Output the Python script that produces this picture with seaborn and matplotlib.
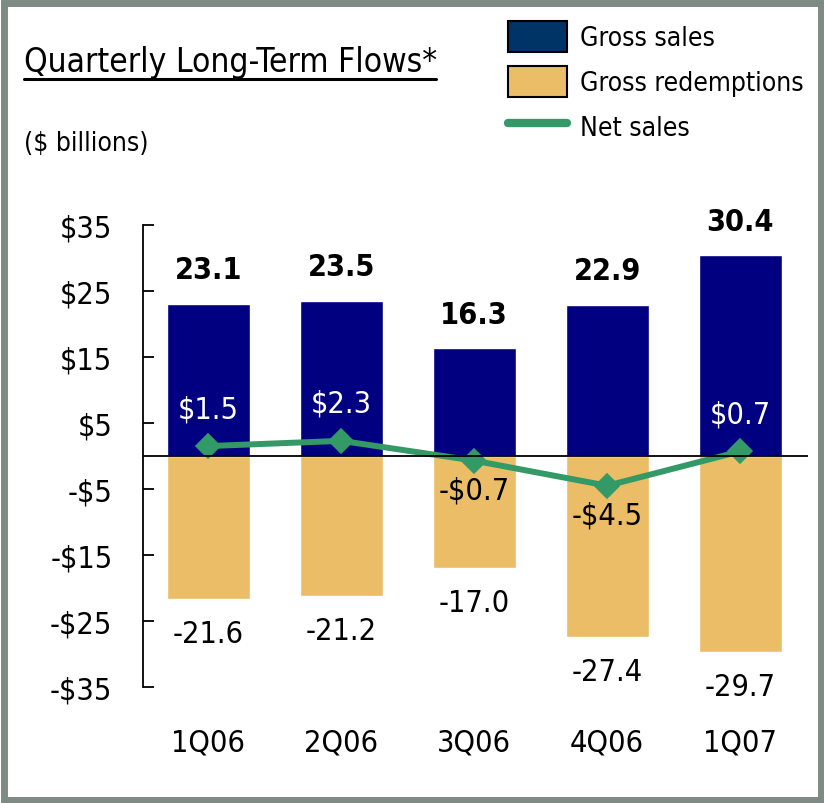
import pandas as pd
import numpy as np
import seaborn as sns
import matplotlib.pyplot as plt
from matplotlib.patches import Patch, Rectangle
from matplotlib.lines import Line2D

# === Dati ===
quarters = ["1Q06", "2Q06", "3Q06", "4Q06", "1Q07"]
gross_sales = [23.1, 23.5, 16.3, 22.9, 30.4]
gross_redemptions = [-21.6, -21.2, -17.0, -27.4, -29.7]
net_sales = [1.5, 2.3, -0.7, -4.5, 0.7]
y_ticks = [35, 25, 15, 5, -5, -15, -25, -35]

df = pd.DataFrame({"quarter": quarters, "gross": gross_sales,
                   "redemptions": gross_redemptions, "net": net_sales})

navy = "#000080"
swatch_navy = "#003366"
gold = "#EBBD66"
green = "#339966"

sns.set_style("white")
plt.rcParams["font.family"] = ["DejaVu Sans"]
plt.rcParams["font.stretch"] = "condensed"
plt.rcParams["text.color"] = "black"
plt.rcParams["xtick.color"] = "black"
plt.rcParams["ytick.color"] = "black"

W, H = 824, 804
fig = plt.figure(figsize=(W / 100, H / 100), dpi=100)
ax = fig.add_axes([143 / W, 1 - 688 / H, (808 - 143) / W, (688 - 226) / H])

sns.barplot(data=df, x="quarter", y="gross", order=quarters, color=navy,
            width=0.623, saturation=1, ax=ax)
sns.barplot(data=df, x="quarter", y="redemptions", order=quarters, color=gold,
            width=0.623, saturation=1, ax=ax)
sns.pointplot(data=df, x="quarter", y="net", order=quarters, color=green,
              markers="D", markersize=10, linewidth=4.3, ax=ax)

ax.axhline(0, color="black", lw=1.3, zorder=5)
ax.set_xlim(-0.49, 4.51)
ax.set_ylim(-35, 35)
ax.set_yticks(y_ticks)
ax.set_yticklabels([f"${v}" if v > 0 else f"-${-v}" for v in y_ticks])
ax.set_xlabel("")
ax.set_ylabel("")
for s in ["top", "right", "bottom"]:
    ax.spines[s].set_visible(False)
ax.spines["left"].set_color("black")
ax.spines["left"].set_linewidth(1.3)
ax.tick_params(axis="y", direction="in", length=8, width=1.3, color="black",
               labelsize=22, pad=22, left=True)
ax.tick_params(axis="x", length=0, labelsize=22, pad=29)

# etichette
for i, q in enumerate(quarters):
    ax.annotate(f"{gross_sales[i]:.1f}", (i, gross_sales[i]), xytext=(0, 24.5),
                textcoords="offset points", ha="center", va="center",
                fontsize=22, fontweight="bold")
    ax.annotate(f"{gross_redemptions[i]:.1f}", (i, gross_redemptions[i]), xytext=(0, -25),
                textcoords="offset points", ha="center", va="center", fontsize=22)
    n = net_sales[i]
    if n >= 0:
        ax.annotate(f"${n:.1f}", (i, n), xytext=(0, 27), textcoords="offset points",
                    ha="center", va="center", fontsize=22, color="white")
    else:
        ax.annotate(f"-${-n:.1f}", (i, n), xytext=(0, -21), textcoords="offset points",
                    ha="center", va="center", fontsize=22, color="black")

# titolo
fig.text(24 / W, 1 - 72 / H, "Quarterly Long-Term Flows*", fontsize=24,
         ha="left", va="baseline")
fig.add_artist(Line2D([24 / W, 436 / W], [1 - 79.5 / H, 1 - 79.5 / H],
                      color="black", lw=2.2))
fig.text(24 / W, 1 - 144 / H, "($ billions)", fontsize=19, ha="left", va="center")

# legenda
handles = [Patch(facecolor=swatch_navy, edgecolor="black", lw=1.5),
           Patch(facecolor=gold, edgecolor="black", lw=1.5),
           Line2D([0], [0], color=green, lw=6)]
fig.legend(handles, ["Gross sales", "Gross redemptions", "Net sales"],
           loc="upper left", bbox_to_anchor=(490 / W, 1 - 4 / H), frameon=False,
           fontsize=19, handlelength=2.2, handleheight=1.4, handletextpad=0.5,
           labelspacing=0.55, borderpad=0.2)

# cornice
fig.add_artist(Rectangle((3.5 / W, 3.5 / H), 1 - 7 / W, 1 - 7 / H, transform=fig.transFigure,
                         fill=False, edgecolor="#7D8B84", lw=5))

fig.savefig("out.png", dpi=100)
